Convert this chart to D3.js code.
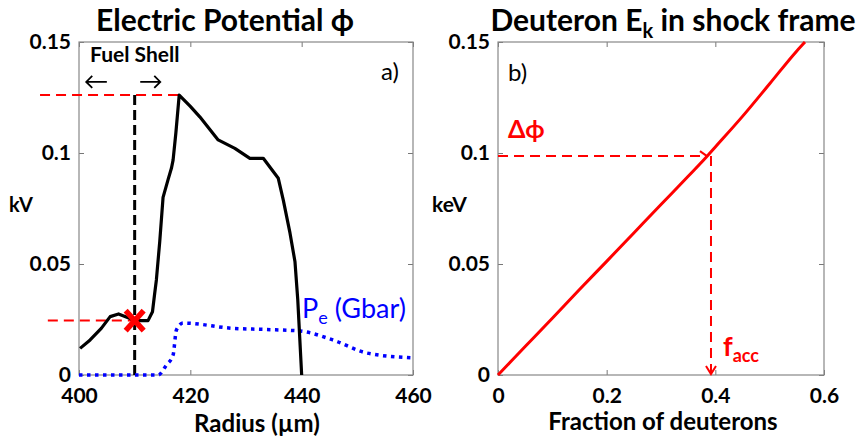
<!DOCTYPE html>
<meta charset="utf-8">
<style>
  body { margin: 0; background: #fff; }
  text { font-family: Lato, "Open Sans", sans-serif; }
</style>
<script src="https://cdn.jsdelivr.net/npm/d3@7"></script>
<div id="chart"></div>
<script>

// panel a) electric potential vs radius
var radius = [400.2, 402, 404, 405.6, 407.1, 408.6, 410.2, 412.4, 413.2, 413.6, 413.9, 414.5, 415.1, 416.0, 416.6, 416.9, 417.4, 418.0, 420.0, 421.7, 425.0, 428.0, 430.7, 433.1, 435.8, 436.7, 437.9, 438.8, 439.3, 440.0];
var potential = [0.012, 0.0158, 0.021, 0.0263, 0.0275, 0.026, 0.0245, 0.0245, 0.0285, 0.0368, 0.0428, 0.06, 0.080, 0.088, 0.0931, 0.0968, 0.109, 0.1261, 0.121, 0.1163, 0.1059, 0.1021, 0.0976, 0.0976, 0.0886, 0.0788, 0.064, 0.051, 0.0338, 0];

// electron pressure (Gbar), dotted
var peRadius = [400, 414.2, 415.7, 416.9, 417.5, 418.7, 427.7, 433.6, 439.7, 445.6, 451.7, 460];
var peValue = [0, 0, 0.0045, 0.009, 0.0203, 0.0234, 0.021, 0.0205, 0.0198, 0.0158, 0.0099, 0.0077];

// panel b) deuteron kinetic energy vs fraction
var fraction = [0, 0.05, 0.1, 0.15, 0.2, 0.25, 0.3, 0.35, 0.384, 0.4, 0.45, 0.5, 0.55, 0.565];
var energy = [0, 0.0128, 0.0256, 0.0385, 0.0512, 0.064, 0.0768, 0.0895, 0.0983, 0.1027, 0.1165, 0.1312, 0.146, 0.150];

var xTicksA = [400, 420, 440, 460];
var xTicksB = [0, 0.2, 0.4, 0.6];
var yTicks = [0, 0.05, 0.1, 0.15];

var shellRadius = 410;      // fuel shell edge
var shellPhi = 0.0245;      // potential at shell
var peakRadius = 418.0, peakPhi = 0.1261;
var fAcc = 0.392, dPhi = 0.0986;

var W = 862, H = 442;
var svg = d3.select("#chart").append("svg")
    .attr("width", W).attr("height", H);

var yTop = 42, yBot = 375;

function panel(x0, x1, xDomain, xTicks, xFmt) {
  var x = d3.scaleLinear().domain(xDomain).range([x0, x1]);
  var y = d3.scaleLinear().domain([0, 0.15]).range([yBot, yTop]);
  var g = svg.append("g");
  // ticks, inside on all four sides
  g.append("g").attr("transform", "translate(0," + yBot + ")")
    .call(d3.axisBottom(x).tickValues(xTicks).tickSize(-5).tickPadding(13).tickFormat(xFmt));
  g.append("g").attr("transform", "translate(0," + yTop + ")")
    .call(d3.axisTop(x).tickValues(xTicks).tickSize(-5).tickFormat(""));
  g.append("g").attr("transform", "translate(" + x0 + ",0)")
    .call(d3.axisLeft(y).tickValues(yTicks).tickSize(-5).tickPadding(8).tickFormat(function(d) { return d === 0 ? "0" : d3.format("")(d); }));
  g.append("g").attr("transform", "translate(" + x1 + ",0)")
    .call(d3.axisRight(y).tickValues(yTicks).tickSize(-5).tickFormat(""));
  g.selectAll(".domain").remove();
  g.selectAll(".tick line").attr("stroke", "#777");
  g.selectAll(".tick text").attr("font-family", "Lato").attr("font-weight", "bold")
    .attr("font-size", 21).attr("fill", "#000");
  g.append("rect").attr("x", x0).attr("y", yTop).attr("width", x1 - x0).attr("height", yBot - yTop)
    .attr("fill", "none").attr("stroke", "#888").attr("stroke-width", 1.2);
  return {x: x, y: y, g: g};
}

// ---- panel a ----
var a = panel(79, 413, [400, 460], xTicksA, d3.format("d"));

var ex = a.x, ey = a.y;
svg.append("line")
  .attr("x1", ex(393)).attr("x2", ex(peakRadius)).attr("y1", ey(peakPhi)).attr("y2", ey(peakPhi))
  .attr("stroke", "red").attr("stroke-width", 2).attr("stroke-dasharray", "10,6");
svg.append("line")
  .attr("x1", ex(394.4)).attr("x2", ex(shellRadius)).attr("y1", ey(shellPhi)).attr("y2", ey(shellPhi))
  .attr("stroke", "red").attr("stroke-width", 2).attr("stroke-dasharray", "10,6");
svg.append("line")
  .attr("x1", ex(shellRadius)).attr("x2", ex(shellRadius)).attr("y1", ey(0)).attr("y2", ey(peakPhi))
  .attr("stroke", "#000").attr("stroke-width", 3).attr("stroke-dasharray", "10,5");

svg.append("path")
  .datum(d3.zip(peRadius, peValue))
  .attr("d", d3.line().x(function(d) { return ex(d[0]); }).y(function(d) { return ey(d[1]); }).curve(d3.curveMonotoneX))
  .attr("fill", "none").attr("stroke", "#0000ff").attr("stroke-width", 3.5).attr("stroke-dasharray", "3.5,4.5");

svg.append("path")
  .datum(d3.zip(radius, potential))
  .attr("d", d3.line().x(function(d) { return ex(d[0]); }).y(function(d) { return ey(d[1]); }))
  .attr("fill", "none").attr("stroke", "#000").attr("stroke-width", 3.2).attr("stroke-linejoin", "round");

// red X marker
var cx = ex(shellRadius), cy = ey(shellPhi);
svg.append("path")
  .attr("d", "M" + (cx - 9) + "," + (cy - 10) + "L" + (cx + 9) + "," + (cy + 10) +
             "M" + (cx + 9) + "," + (cy - 10) + "L" + (cx - 9) + "," + (cy + 10))
  .attr("stroke", "red").attr("stroke-width", 5.5);

// fuel shell arrows
function arrow(xa, xb, yv) {
  var p1 = ex(xa), p2 = ex(xb), yy = ey(yv), d = p2 > p1 ? -6 : 6;
  svg.append("path")
    .attr("d", "M" + p1 + "," + yy + "L" + p2 + "," + yy + "M" + (p2 + d) + "," + (yy - 6) + "L" + p2 + "," + yy + "L" + (p2 + d) + "," + (yy + 6))
    .attr("fill", "none").attr("stroke", "#000").attr("stroke-width", 1.8);
}
arrow(405, 401.3, 0.132);
arrow(411, 414.6, 0.132);

svg.append("text").attr("x", 90).attr("y", 62).attr("font-weight", "bold").attr("font-size", 21).text("Fuel Shell");
svg.append("text").attr("x", 381).attr("y", 80).attr("font-size", 24).text("a)");

var pe = svg.append("text").attr("x", 302).attr("y", 318).attr("font-size", 27).attr("fill", "#0000ff");
pe.append("tspan").text("P");
pe.append("tspan").attr("dy", 6).attr("font-size", 18).text("e");
pe.append("tspan").attr("dy", -6).text(" (Gbar)");

svg.append("text").attr("x", 225).attr("y", 31).attr("text-anchor", "middle")
  .attr("font-weight", "bold").attr("font-size", 30).text("Electric Potential \u03d5");
svg.append("text").attr("x", 9).attr("y", 212).attr("font-weight", "bold").attr("font-size", 20).text("kV");
svg.append("text").attr("x", 257).attr("y", 432).attr("text-anchor", "middle")
  .attr("font-weight", "bold").attr("font-size", 24).text("Radius (\u00b5m)");

// ---- panel b ----
var b = panel(498, 824, [0, 0.6], xTicksB, function(d) { return d === 0 ? "0" : d3.format(".1f")(d); });
var bx = b.x, by = b.y;

svg.append("line")
  .attr("x1", bx(0)).attr("x2", bx(fAcc) - 4).attr("y1", by(dPhi)).attr("y2", by(dPhi))
  .attr("stroke", "red").attr("stroke-width", 2).attr("stroke-dasharray", "10,6");
svg.append("path")
  .attr("d", "M" + (bx(fAcc) - 11) + "," + (by(dPhi) - 5) + "L" + (bx(fAcc) - 4) + "," + by(dPhi))
  .attr("fill", "none").attr("stroke", "red").attr("stroke-width", 2);
svg.append("line")
  .attr("x1", bx(fAcc)).attr("x2", bx(fAcc)).attr("y1", by(dPhi)).attr("y2", by(0) - 2)
  .attr("stroke", "red").attr("stroke-width", 2).attr("stroke-dasharray", "10,6");
svg.append("path")
  .attr("d", "M" + (bx(fAcc) - 5) + "," + (by(0) - 9) + "L" + bx(fAcc) + "," + (by(0) - 1) + "L" + (bx(fAcc) + 5) + "," + (by(0) - 9))
  .attr("fill", "none").attr("stroke", "red").attr("stroke-width", 2);

svg.append("path")
  .datum(d3.zip(fraction, energy))
  .attr("d", d3.line().x(function(d) { return bx(d[0]); }).y(function(d) { return by(d[1]); }).curve(d3.curveMonotoneX))
  .attr("fill", "none").attr("stroke", "red").attr("stroke-width", 3);

svg.append("text").attr("x", 508).attr("y", 81).attr("font-size", 24).text("b)");
svg.append("text").attr("x", 508).attr("y", 138).attr("font-weight", "bold").attr("font-size", 25)
  .attr("fill", "red").text("\u0394\u03d5");
var fa = svg.append("text").attr("x", 723).attr("y", 356).attr("font-weight", "bold").attr("font-size", 27).attr("fill", "red");
fa.append("tspan").text("f");
fa.append("tspan").attr("dy", 6).attr("font-size", 18).text("acc");

var t2 = svg.append("text").attr("x", 673).attr("y", 31).attr("text-anchor", "middle")
  .attr("font-weight", "bold").attr("font-size", 30);
t2.append("tspan").text("Deuteron E");
t2.append("tspan").attr("dy", 7).attr("font-size", 20).text("k");
t2.append("tspan").attr("dy", -7).text(" in shock frame");
svg.append("text").attr("x", 432).attr("y", 212).attr("font-weight", "bold").attr("font-size", 21).text("keV");
svg.append("text").attr("x", 663).attr("y", 430).attr("text-anchor", "middle")
  .attr("font-weight", "bold").attr("font-size", 24).text("Fraction of deuterons");
</script>
